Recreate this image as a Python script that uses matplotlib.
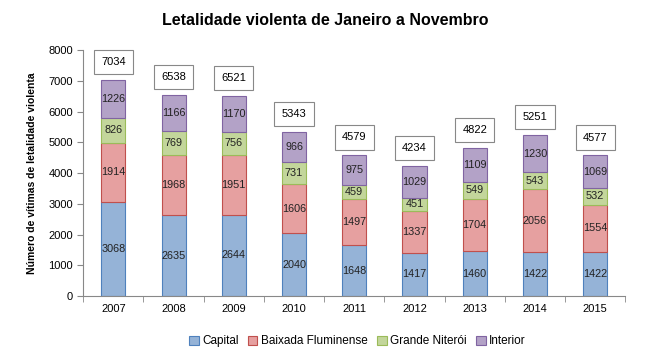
import numpy as np
import matplotlib
matplotlib.use("Agg")
import matplotlib.pyplot as plt

plt.rcParams['font.family'] = ['Liberation Sans', 'DejaVu Sans']

anos = ['2007', '2008', '2009', '2010', '2011', '2012', '2013', '2014', '2015']
capital = [3068, 2635, 2644, 2040, 1648, 1417, 1460, 1422, 1422]
baixada = [1914, 1968, 1951, 1606, 1497, 1337, 1704, 2056, 1554]
niteroi = [826, 769, 756, 731, 459, 451, 549, 543, 532]
interior = [1226, 1166, 1170, 966, 975, 1029, 1109, 1230, 1069]

series = [capital, baixada, niteroi, interior]
nomes = ['Capital', 'Baixada Fluminense', 'Grande Niterói', 'Interior']
cores = ['#95B3D7', '#E6A0A0', '#C3D69B', '#B3A2C7']
bordas = ['#4F81BD', '#C0504D', '#9BBB59', '#8064A2']

fig = plt.figure(figsize=(6.5, 3.58), dpi=100)
ax = fig.add_axes([0.128, 0.173, 0.834, 0.687])

x = np.arange(len(anos))
base = np.zeros(len(anos))
for vals, nome, cor, borda in zip(series, nomes, cores, bordas):
    vals = np.array(vals)
    ax.bar(x, vals, 0.4, bottom=base, color=cor, edgecolor=borda, linewidth=0.8, label=nome)
    for xi, b, v in zip(x, base, vals):
        ax.text(xi, b + v / 2, str(v), ha='center', va='center', fontsize=7.8, color='#222222')
    base = base + vals

# caixas com os totais
for xi, tot in zip(x, base):
    ax.text(xi, tot + 580, str(int(tot)), ha='center', va='center', fontsize=8,
            bbox=dict(boxstyle='square,pad=0.65', facecolor='white', edgecolor='#888888', linewidth=0.8))

ax.set_xlim(-0.5, len(anos) - 0.5)
ax.set_ylim(0, 8000)
ax.set_yticks(range(0, 8001, 1000))
ax.set_xticks(x)
ax.set_xticklabels(anos)
ax.set_xticks(np.arange(-0.5, len(anos), 1), minor=True)
ax.tick_params(axis='x', which='major', length=0, labelsize=8, pad=6)
ax.tick_params(axis='x', which='minor', length=4, direction='out', color='#888888')
ax.tick_params(axis='y', labelsize=8, length=4, direction='out', color='#888888')
for lado in ['top', 'right']:
    ax.spines[lado].set_visible(False)
ax.spines['left'].set_color('#888888')
ax.spines['bottom'].set_color('#888888')

ax.set_ylabel('Número de vítimas de letalidade violenta', fontsize=7.5, fontweight='bold', labelpad=8)
fig.suptitle('Letalidade violenta de Janeiro a Novembro', fontsize=11.5, fontweight='bold', x=0.5, y=0.965)

fig.legend(loc='lower center', bbox_to_anchor=(0.55, 0.0), ncol=4, fontsize=8.5, frameon=False,
           handlelength=0.8, handleheight=0.8, handletextpad=0.3, columnspacing=0.8)

fig.savefig('out.png', dpi=100)
